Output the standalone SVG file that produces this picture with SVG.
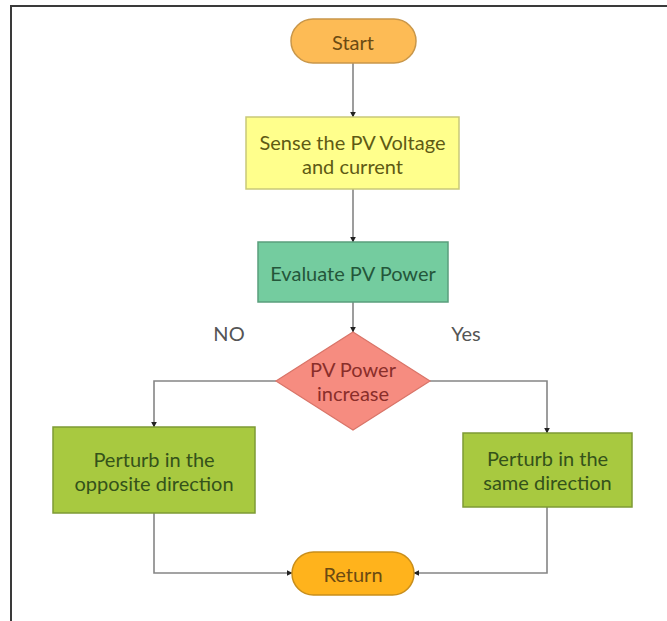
<svg xmlns="http://www.w3.org/2000/svg" width="667" height="621" viewBox="0 0 667 621">
<style>
  text { font-family: Lato, "Open Sans", "Liberation Sans", sans-serif; font-size: 20px; text-anchor: middle; dominant-baseline: central; }
  .conn { fill: none; stroke: #858585; stroke-width: 1.6; }
  .frame { fill: none; stroke: #3a3a3a; stroke-width: 2; }
</style>
<defs>
  <marker id="arr" viewBox="0 0 10 10" refX="9" refY="5" markerWidth="6" markerHeight="6" orient="auto" markerUnits="userSpaceOnUse">
    <path d="M0,0 L10,5 L0,10 z" fill="#222"/>
  </marker>
</defs>
<rect width="667" height="621" fill="#ffffff"/>
<path class="frame" d="M11,621 L11,6 L667,6"/>
<g id="connectors">
  <path class="conn" d="M353,63 L353,117" marker-end="url(#arr)"/>
  <path class="conn" d="M353,189 L353,242" marker-end="url(#arr)"/>
  <path class="conn" d="M353,302 L353,332" marker-end="url(#arr)"/>
  <path class="conn" d="M276,381 L154,381 L154,427" marker-end="url(#arr)"/>
  <path class="conn" d="M430,381 L547,381 L547,433" marker-end="url(#arr)"/>
  <path class="conn" d="M154,513 L154,573 L292,573" marker-end="url(#arr)"/>
  <path class="conn" d="M547,507 L547,573 L414,573" marker-end="url(#arr)"/>
</g>
<g id="start">
  <rect x="291" y="19" width="125" height="44" rx="22" fill="#FDBB55" stroke="#C9974A" stroke-width="1.5"/>
  <text x="353" y="42" fill="#6b4a12">Start</text>
</g>
<g id="sense">
  <rect x="246" y="117" width="213" height="72" fill="#FFFF8C" stroke="#C9C978" stroke-width="1.5"/>
  <text x="352.5" y="142" fill="#5e5a14">Sense the PV Voltage</text>
  <text x="352.5" y="166" fill="#5e5a14">and current</text>
</g>
<g id="evaluate">
  <rect x="258" y="242" width="190" height="60" fill="#74CC9F" stroke="#5A9E7C" stroke-width="1.5"/>
  <text x="353" y="273" fill="#24563a">Evaluate PV Power</text>
</g>
<g id="decision">
  <polygon points="353,332 430,381 353,430 276,381" fill="#F68C80" stroke="#D97468" stroke-width="1.2"/>
  <text x="353" y="369" fill="#8a2e2a">PV Power</text>
  <text x="353" y="393" fill="#8a2e2a">increase</text>
</g>
<g id="label-no">
  <text x="229" y="333" fill="#555">NO</text>
</g>
<g id="label-yes">
  <text x="466" y="333" fill="#555">Yes</text>
</g>
<g id="opposite">
  <rect x="53" y="427" width="202" height="86" fill="#A8C940" stroke="#7E9A34" stroke-width="1.5"/>
  <text x="154" y="459" fill="#34521a">Perturb in the</text>
  <text x="154" y="483" fill="#34521a">opposite direction</text>
</g>
<g id="same">
  <rect x="463" y="433" width="169" height="74" fill="#A8C940" stroke="#7E9A34" stroke-width="1.5"/>
  <text x="547.5" y="458" fill="#34521a">Perturb in the</text>
  <text x="547.5" y="482" fill="#34521a">same direction</text>
</g>
<g id="return">
  <rect x="292" y="552" width="122" height="43" rx="21.5" fill="#FFB31C" stroke="#C98E1A" stroke-width="1.5"/>
  <text x="353" y="574" fill="#6b4a12">Return</text>
</g>
</svg>
